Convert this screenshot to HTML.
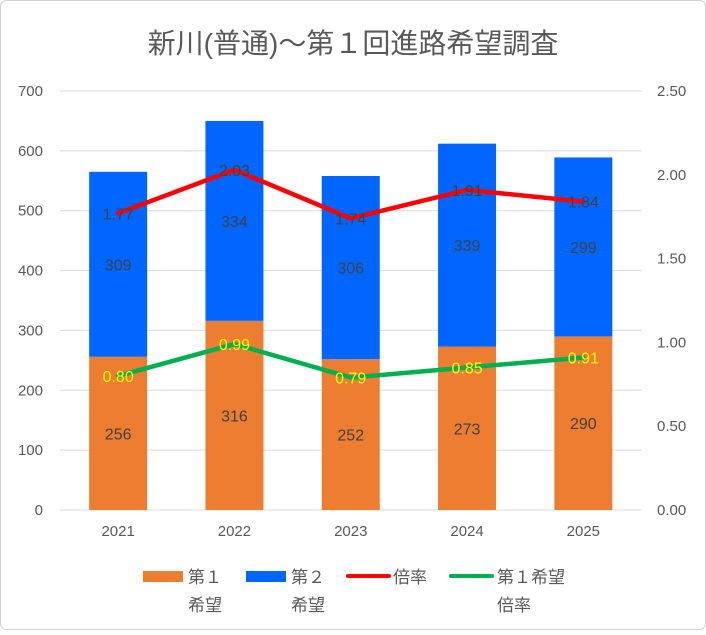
<!DOCTYPE html>
<html><head><meta charset="utf-8"><style>
body{margin:0;background:#fff}
svg text{font-family:"Liberation Sans","Noto Sans CJK JP",sans-serif}
</style></head><body>
<svg id="c" width="706" height="630">
<rect x="0.5" y="0.5" width="705" height="629" rx="6" fill="#fff" stroke="#d0d0d0"/>
<text x="353" y="53" text-anchor="middle" font-size="28" fill="#595959">新川(普通)～第１回進路希望調査</text>
<g id="grid"></g><g id="bars"></g><g id="lines"></g><g id="labels"></g>
<g font-size="17" fill="#595959">
<rect x="143" y="571" width="40" height="11" fill="#ED7D31"/>
<text x="188" y="583">第１</text>
<text x="188" y="611">希望</text>
<rect x="246" y="571" width="40" height="11" fill="#0066FF"/>
<text x="291" y="583">第２</text>
<text x="291" y="611">希望</text>
<line x1="348" y1="576" x2="389" y2="576" stroke="#FF0000" stroke-width="4" stroke-linecap="round"/>
<text x="393" y="583">倍率</text>
<line x1="451" y1="576" x2="492" y2="576" stroke="#00B050" stroke-width="4" stroke-linecap="round"/>
<text x="497" y="583">第１希望</text>
<text x="497" y="611">倍率</text>
</g>
</svg>
<script>
const categories=["2021","2022","2023","2024","2025"];
const first=[256,316,252,273,290];
const second=[309,334,306,339,299];
const ratio=[1.77,2.03,1.74,1.91,1.84];
const firstRatio=[0.80,0.99,0.79,0.85,0.91];
const leftTicks=[0,100,200,300,400,500,600,700];
const rightTicks=["0.00","0.50","1.00","1.50","2.00","2.50"];
const NS="http://www.w3.org/2000/svg";
const X0=60,X1=641.5,Y0=510,Y1=91;
const yL=v=>Y0-(v/700)*(Y0-Y1);
const yR=v=>Y0-(v/2.5)*(Y0-Y1);
const step=(X1-X0)/categories.length;
const xC=i=>X0+step*(i+0.5);
function mk(tag,attrs,parent,txt){const e=document.createElementNS(NS,tag);for(const k in attrs)e.setAttribute(k,attrs[k]);if(txt!==undefined)e.textContent=txt;document.getElementById(parent).appendChild(e);return e;}
leftTicks.forEach(v=>{
 const g=mk('line',{x1:X0,x2:X1,y1:yL(v),y2:yL(v),stroke:'#d9d9d9','stroke-width':1},'grid');
 
 
 const t=mk('text',{x:43,y:yL(v)+5,'text-anchor':'end','font-size':15,fill:'#595959'},'grid',v);
 
 
});
rightTicks.forEach(v=>{
 const t=mk('text',{x:657,y:yR(+v)+5,'font-size':15,fill:'#595959'},'grid',v);
 
 
});
const bw=58;
categories.forEach((c,i)=>{
 const x=xC(i)-bw/2;
 const b1=mk('rect',{x:x,y:yL(first[i]),width:bw,height:Y0-yL(first[i]),fill:'#ED7D31'},'bars');
 
 
 const top=first[i]+second[i];
 const b2=mk('rect',{x:x,y:yL(top),width:bw,height:yL(first[i])-yL(top),fill:'#0066FF'},'bars');
 
 
 const t=mk('text',{x:xC(i),y:536,'text-anchor':'middle','font-size':15,fill:'#595959'},'grid',c);
 
 
 const l1=mk('text',{x:xC(i),y:(yL(first[i])+Y0)/2+6,'text-anchor':'middle','font-size':16,fill:'#404040'},'labels',first[i]);
 
 
 const l2=mk('text',{x:xC(i),y:(yL(top)+yL(first[i]))/2+6,'text-anchor':'middle','font-size':16,fill:'#404040'},'labels',second[i]);
 
 
 const l3=mk('text',{x:xC(i),y:yR(ratio[i])+6,'text-anchor':'middle','font-size':16,fill:'#404040'},'labels',ratio[i].toFixed(2));
 
 
 const l4=mk('text',{x:xC(i),y:yR(firstRatio[i])+6,'text-anchor':'middle','font-size':16,fill:'#FFFF00'},'labels',firstRatio[i].toFixed(2));
 
 
});
const p1=mk('polyline',{points:ratio.map((v,i)=>xC(i)+','+yR(v)).join(' '),fill:'none',stroke:'#FF0000','stroke-width':4.5,'stroke-linejoin':'round','stroke-linecap':'round'},'lines');


const p2=mk('polyline',{points:firstRatio.map((v,i)=>xC(i)+','+yR(v)).join(' '),fill:'none',stroke:'#00B050','stroke-width':4.5,'stroke-linejoin':'round','stroke-linecap':'round'},'lines');


</script>
</body></html>
